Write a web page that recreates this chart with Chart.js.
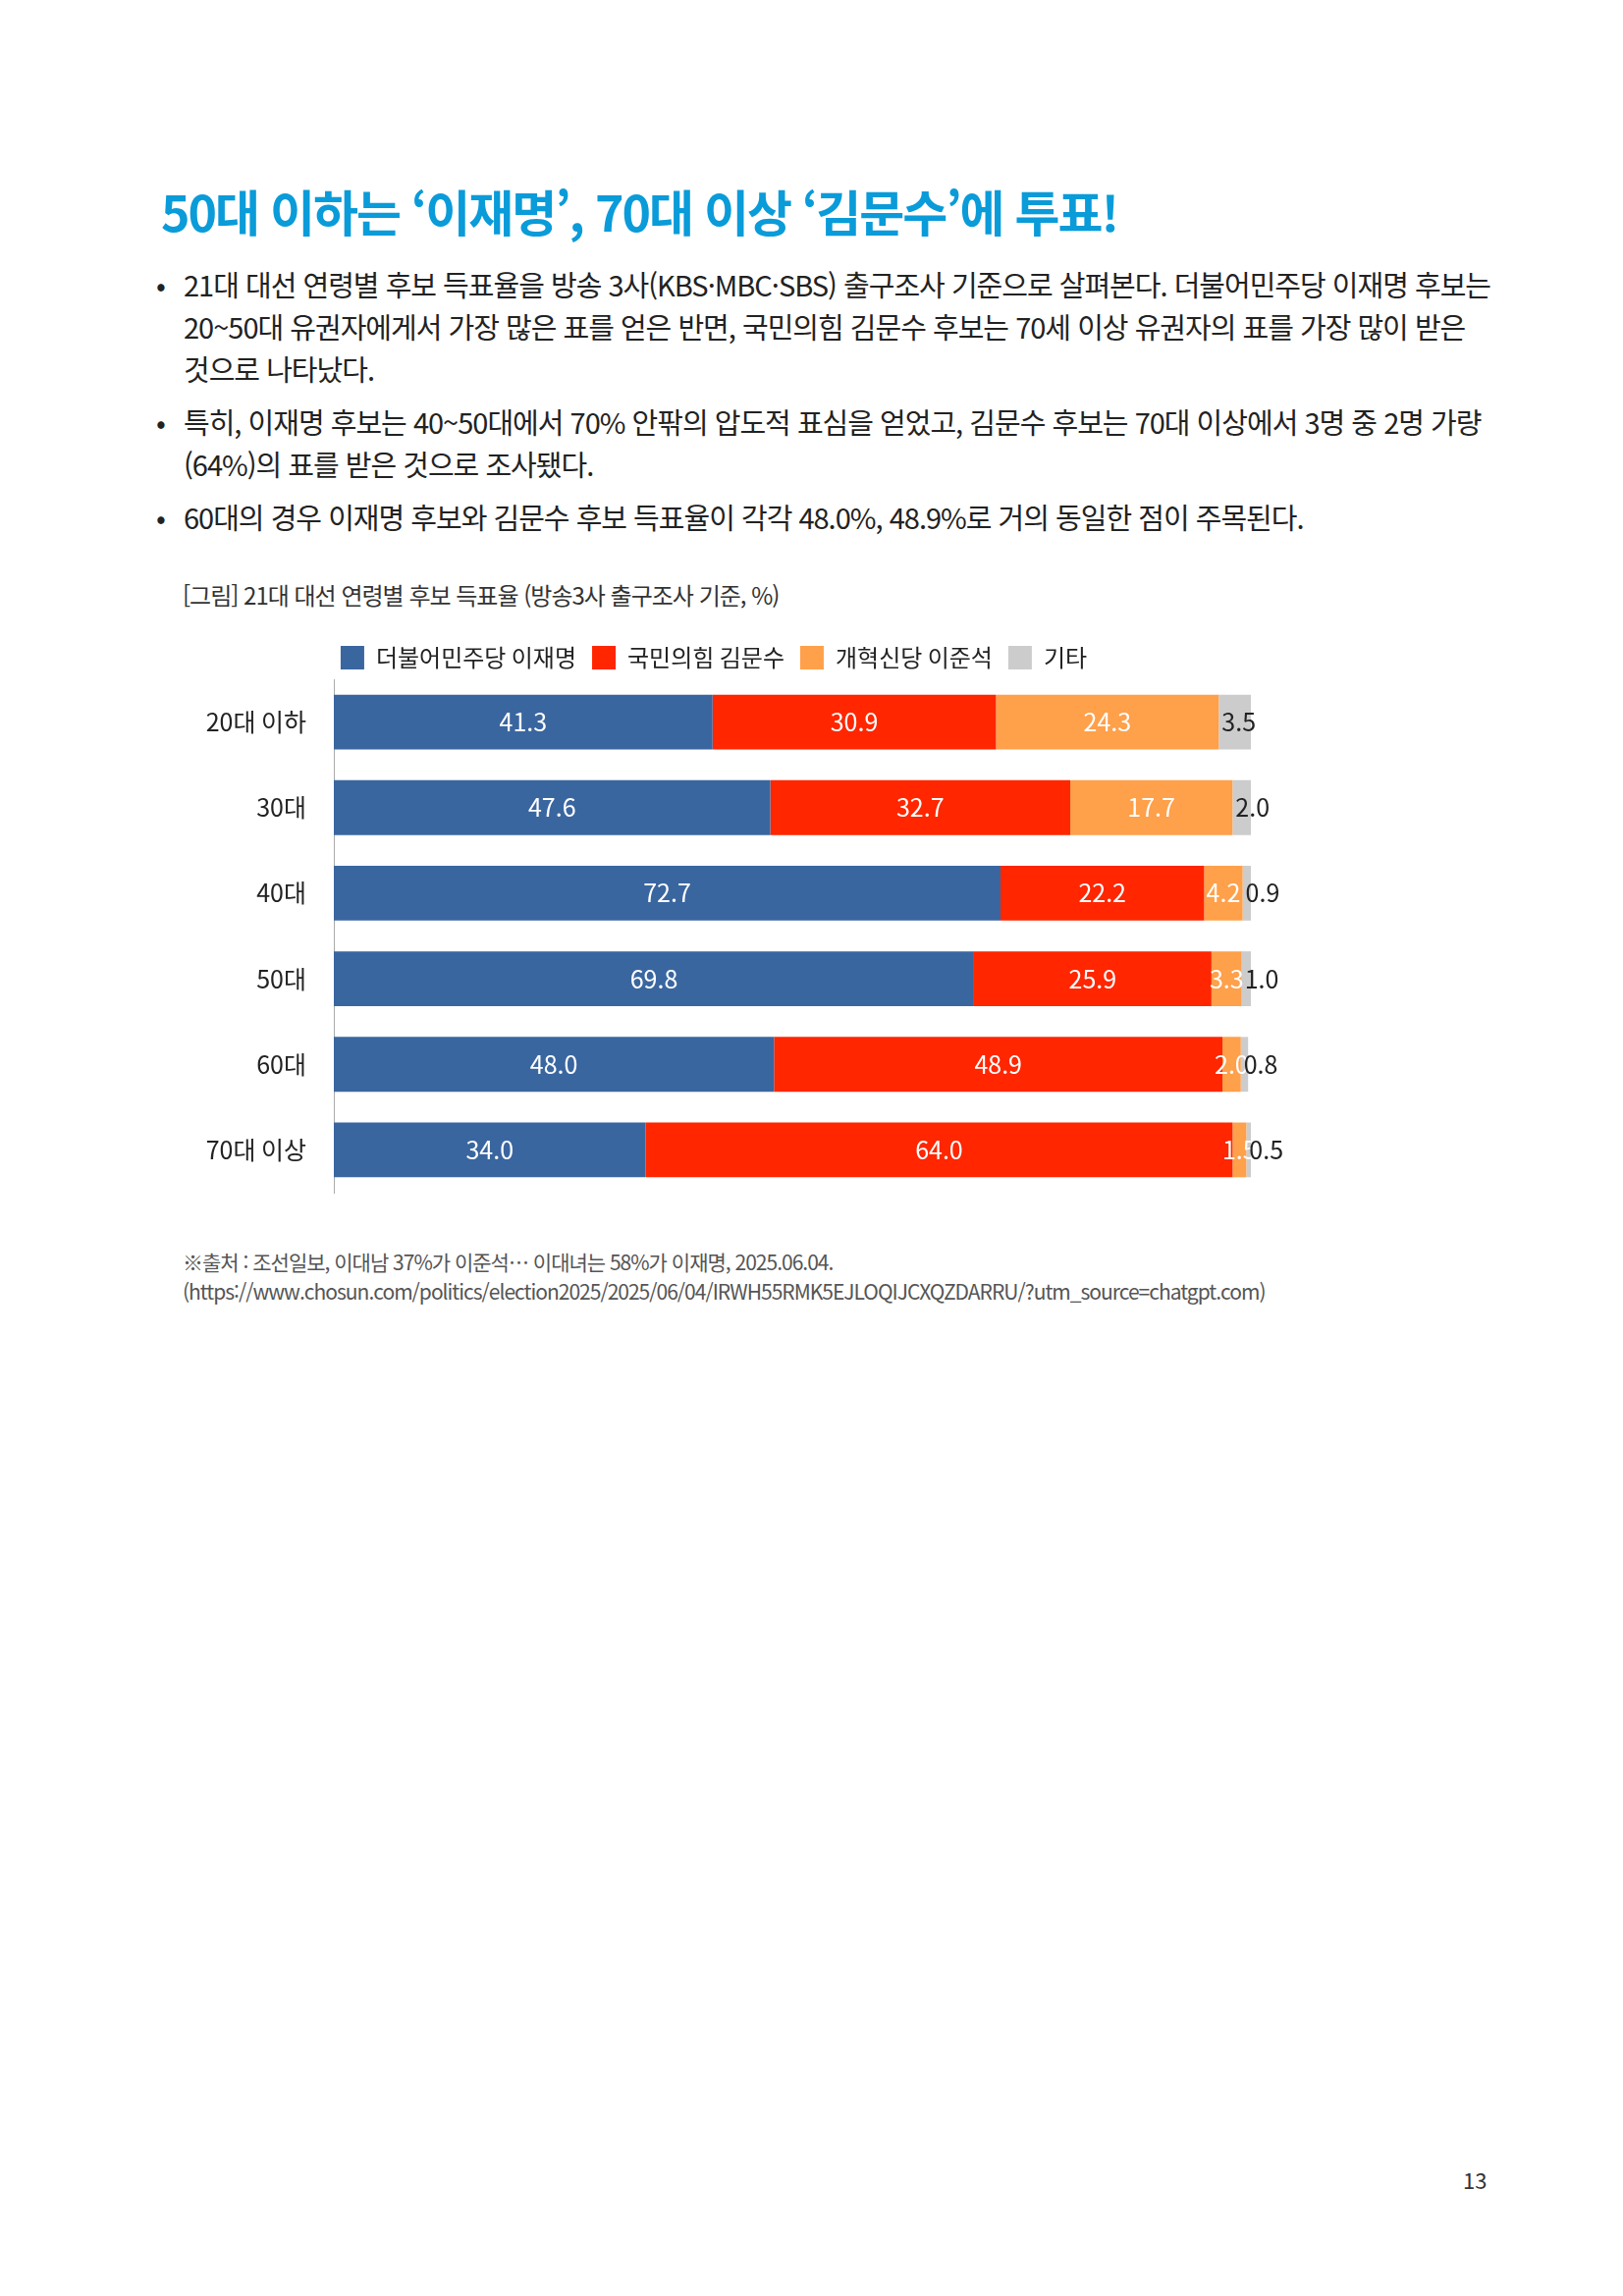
<!DOCTYPE html>
<html lang="ko">
<head>
<meta charset="utf-8">
<script src="https://cdn.jsdelivr.net/npm/chart.js@4"></script>
<style>
  body { margin: 0; background: #fff; font-family: "Noto Sans CJK KR", "Noto Sans", sans-serif; }
  .page { position: relative; width: 1653px; height: 2339px; }
  h1 { position: absolute; left: 164px; top: 178px; margin: 0; font-size: 50px; font-weight: 700; color: #0a9bd9; letter-spacing: -2px; }
  ul { position: absolute; left: 155px; top: 268px; width: 1370px; margin: 0; padding: 0; list-style: none; font-size: 29px; line-height: 43px; color: #222; letter-spacing: -1px; }
  li { position: relative; padding-left: 32px; margin-bottom: 11px; }
  li::before { content: "•"; position: absolute; left: 4px; }
  .cap { position: absolute; left: 186px; top: 588px; font-size: 24px; color: #333; letter-spacing: -1px; }
  .src { position: absolute; left: 186px; top: 1270px; width: 1320px; font-size: 21px; line-height: 30px; color: #555; letter-spacing: -1px; }
  .pg { position: absolute; left: 1490px; top: 2204px; font-size: 22px; color: #333; }
  #wrap { position: absolute; left: 180px; top: 620px; width: 1250px; height: 630px; }
</style>
</head>
<body>
<div class="page">
  <h1>50대 이하는 ‘이재명’, 70대 이상 ‘김문수’에 투표!</h1>
  <ul>
    <li>21대 대선 연령별 후보 득표율을 방송 3사(KBS·MBC·SBS) 출구조사 기준으로 살펴본다. 더불어민주당 이재명 후보는 20~50대 유권자에게서 가장 많은 표를 얻은 반면, 국민의힘 김문수 후보는 70세 이상 유권자의 표를 가장 많이 받은 것으로 나타났다.</li>
    <li>특히, 이재명 후보는 40~50대에서 70% 안팎의 압도적 표심을 얻었고, 김문수 후보는 70대 이상에서 3명 중 2명 가량(64%)의 표를 받은 것으로 조사됐다.</li>
    <li>60대의 경우 이재명 후보와 김문수 후보 득표율이 각각 48.0%, 48.9%로 거의 동일한 점이 주목된다.</li>
  </ul>
  <div class="cap">[그림] 21대 대선 연령별 후보 득표율 (방송3사 출구조사 기준, %)</div>
  <div id="wrap"><canvas id="chart"></canvas></div>
  <div class="src">※출처 : 조선일보, 이대남 37%가 이준석… 이대녀는 58%가 이재명, 2025.06.04. (https://www.chosun.com/politics/election2025/2025/06/04/IRWH55RMK5EJLOQIJCXQZDARRU/?utm_source=chatgpt.com)</div>
  <div class="pg">13</div>
</div>
<script>
const ageGroups = ['20대 이하', '30대', '40대', '50대', '60대', '70대 이상'];
const leeJaemyung = [41.3, 47.6, 72.7, 69.8, 48.0, 34.0];
const kimMoonsoo = [30.9, 32.7, 22.2, 25.9, 48.9, 64.0];
const leeJunseok = [24.3, 17.7, 4.2, 3.3, 2.0, 1.5];
const others = [3.5, 2.0, 0.9, 1.0, 0.8, 0.5];

const font = '"Noto Sans CJK KR", "Noto Sans", sans-serif';

const valueLabels = {
    id: 'valueLabels',
    afterDatasetsDraw: (chart) => {
        const ctx = chart.ctx;
        ctx.save();
        ctx.font = '25px ' + font;
        ctx.textBaseline = 'middle';
        chart.data.datasets.forEach((ds, i) => {
            const meta = chart.getDatasetMeta(i);
            meta.data.forEach((bar, j) => {
                const text = ds.data[j].toFixed(1);
                if (i === 3) {
                    ctx.fillStyle = '#222';
                    ctx.textAlign = 'left';
                    ctx.fillText(text, bar.base + 3, bar.y);
                } else {
                    ctx.fillStyle = '#fff';
                    ctx.textAlign = 'center';
                    ctx.fillText(text, (bar.base + bar.x) / 2, bar.y);
                }
            });
        });
        ctx.restore();
    }
};

new Chart(document.getElementById('chart'), {
    type: 'bar',
    data: {
        labels: ageGroups,
        datasets: [
            { label: '더불어민주당 이재명', data: leeJaemyung, backgroundColor: '#3a66a0' },
            { label: '국민의힘 김문수', data: kimMoonsoo, backgroundColor: '#ff2600' },
            { label: '개혁신당 이준석', data: leeJunseok, backgroundColor: '#ffa04a' },
            { label: '기타', data: others, backgroundColor: '#cccccc' }
        ]
    },
    options: {
        indexAxis: 'y',
        animation: false,
        responsive: true,
        maintainAspectRatio: false,
        categoryPercentage: 0.64,
        barPercentage: 1,
        layout: { padding: { left: 0, right: 156, top: 22, bottom: 18 } },
        plugins: {
            legend: {
                position: 'top',
                labels: {
                    color: '#222',
                    font: { family: font, size: 24 },
                    boxWidth: 24,
                    boxHeight: 24,
                    padding: 16
                }
            },
            tooltip: { enabled: false }
        },
        scales: {
            x: {
                stacked: true,
                min: 0,
                max: 100,
                display: false
            },
            y: {
                stacked: true,
                grid: { display: false },
                border: { display: true, color: '#aaaaaa', width: 1 },
                ticks: { color: '#222', font: { family: font, size: 25 }, padding: 20 },
                afterFit: (scale) => { scale.width = 160; }
            }
        }
    },
    plugins: [valueLabels]
});
</script>
</body>
</html>
